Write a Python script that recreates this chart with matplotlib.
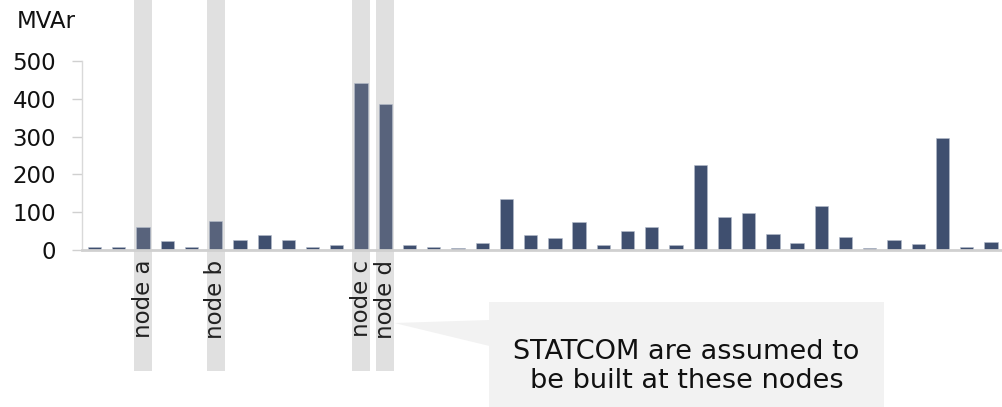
import matplotlib
matplotlib.use("Agg")
import matplotlib.pyplot as plt
from matplotlib import transforms
from matplotlib.patches import Rectangle, Polygon

# reactive power need per node (MVAr)
values = [7, 7, 61, 23, 9, 78, 26, 39, 26, 9, 12, 442, 386, 12, 9, 5, 19,
          134, 41, 31, 73, 12, 50, 62, 12, 225, 86, 97, 42, 18, 117, 34,
          5, 26, 16, 295, 7, 20]
node_idx = [2, 5, 11, 12]
node_labels = ["node a", "node b", "node c", "node d"]
y_ticks = [0, 100, 200, 300, 400, 500]
note = "STATCOM are assumed to\nbe built at these nodes"

W, H = 1003, 407
fig = plt.figure(figsize=(W / 100, H / 100), dpi=100)
ax = fig.add_axes([82 / W, (H - 250) / H, (W - 82) / W, (250 - 61) / H])

cols = ["#58637c" if i in node_idx else "#3f4f6f" for i in range(len(values))]
ax.bar(range(len(values)), values, width=0.55, color=cols,
       edgecolor="#b5bccb", linewidth=0.4, zorder=3)

# grey bands behind the STATCOM nodes, running from top of figure to below labels
trans = transforms.blended_transform_factory(ax.transData, fig.transFigure)
for i in node_idx:
    r = Rectangle((i - 0.37, (H - 371) / H), 0.74, 371 / H, transform=trans,
                  facecolor="#e0e0e0", edgecolor="none", clip_on=False, zorder=0)
    fig.add_artist(r)

ax.set_xlim(-0.52, len(values) - 0.5)
ax.set_ylim(0, 500)
ax.set_yticks(y_ticks)
ax.set_xticks(node_idx)
ax.set_xticklabels(node_labels, rotation=90, va="top", ha="center", fontsize=16.5)
ax.tick_params(axis="x", length=0, pad=7, colors="#222222")
ax.tick_params(axis="y", length=7, width=1, color="#d0d0d0", pad=11.5,
               labelsize=16.5, labelcolor="#111111")
for s in ["top", "right"]:
    ax.spines[s].set_visible(False)
ax.spines["left"].set_color("#d9d9d9")
ax.spines["left"].set_linewidth(1)
ax.spines["bottom"].set_color("#d0d0d0")
ax.spines["bottom"].set_linewidth(2)
ax.spines["bottom"].set_zorder(4)
ax.patch.set_alpha(0)

fig.text(17 / W, (H - 28.5) / H, "MVAr", fontsize=16.5, va="baseline",
         ha="left", color="#111111")

# callout box
box = Rectangle((489 / W, 0), (884 - 489) / W, (H - 302) / H,
                transform=fig.transFigure, facecolor="#f2f2f2",
                edgecolor="none", zorder=1)
fig.add_artist(box)
tip = trans.transform((node_idx[-1] + 0.37, (H - 323) / H))
tip = fig.transFigure.inverted().transform(tip)
ptr = Polygon([tip, (489.5 / W, (H - 320) / H), (489.5 / W, (H - 346) / H)],
              closed=True, transform=fig.transFigure, facecolor="#f2f2f2",
              edgecolor="none", zorder=1)
fig.add_artist(ptr)
fig.text(686.5 / W, (H - 366.5) / H, note, fontsize=19.5, ha="center",
         va="center", multialignment="center", color="#111111", zorder=2,
         linespacing=1.15)

fig.savefig("out.png", dpi=100)
